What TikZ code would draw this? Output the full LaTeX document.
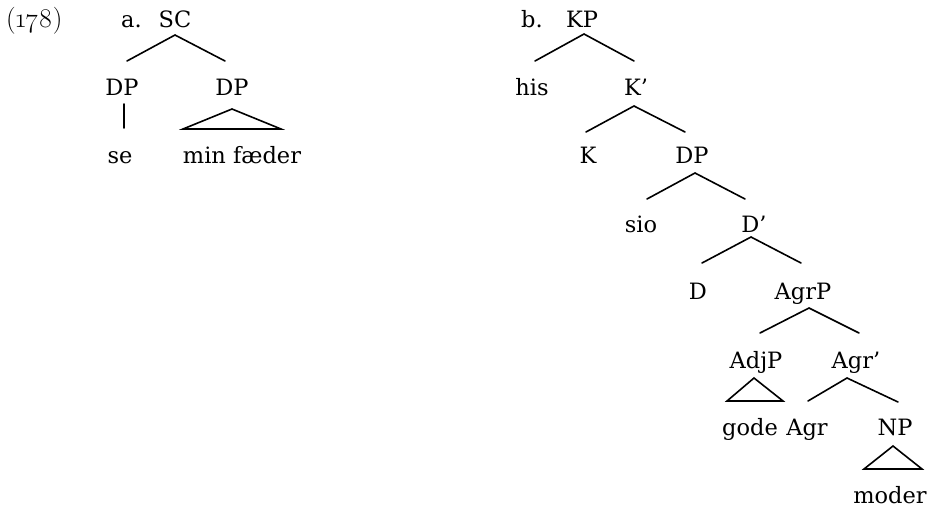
\documentclass[tikz,border=0pt]{standalone}
\usepackage{fontspec}
\setmainfont{DejaVu Serif}
\newfontfamily\osf{Latin Modern Roman}[Numbers=OldStyle]
\begin{document}
\begin{tikzpicture}[x=1pt,y=-1pt,
  lab/.style={inner sep=0pt,anchor=base,font=\fontsize{22.5}{27}\selectfont},
  labw/.style={lab,anchor=base west},
  br/.style={line width=1.6pt,line cap=round,line join=miter}]
\useasboundingbox (0,0) rectangle (933,507);
% tree a
\node[labw,font=\fontsize{27}{32}\osf] (ex) at (6,27) {(178)};
\node[labw] (a) at (121,27) {a.};
\node[lab] (SC) at (175,27) {SC};
\node[lab] (DPl) at (122,95) {DP};
\node[lab] (DPr) at (232,95) {DP};
\node[lab] (se) at (120,163) {se};
\node[lab] (mf) at (242,163) {min fæder};
\coordinate (SCa) at (175,35);
\coordinate (SCl) at (127,61);
\coordinate (SCr) at (225,61);
\draw[br] (SCl) -- (SCa) -- (SCr);
\coordinate (DPlt) at (124,104);
\coordinate (DPlb) at (124,128);
\draw[br] (DPlt) -- (DPlb);
\coordinate (DPra) at (232,109);
\coordinate (DPrl) at (183,129);
\coordinate (DPrr) at (281,129);
\draw[br] (DPra) -- (DPrl) -- (DPrr) -- cycle;
% tree b
\node[labw] (b) at (521,27) {b.};
\node[lab] (KP) at (582,27) {KP};
\node[lab] (his) at (532,95) {his};
\node[lab] (Kb) at (636,95) {K’};
\node[lab] (K) at (588,163) {K};
\node[lab] (DPb) at (692,163) {DP};
\node[lab] (sio) at (641,232) {sio};
\node[lab] (Db) at (754,232) {D’};
\node[lab] (D) at (698,299) {D};
\node[lab] (AgrP) at (803,299) {AgrP};
\node[lab] (AdjP) at (756,368) {AdjP};
\node[lab] (Agrb) at (856,368) {Agr’};
\node[lab] (gode) at (750,435) {gode};
\node[lab] (Agr) at (807,435) {Agr};
\node[lab] (NP) at (895,435) {NP};
\node[lab] (moder) at (890,503) {moder};
\coordinate (KPa) at (584,34);
\coordinate (KPl) at (535,61);
\coordinate (KPr) at (634,61);
\draw[br] (KPl) -- (KPa) -- (KPr);
\coordinate (Kba) at (634,106);
\coordinate (Kbl) at (586,132);
\coordinate (Kbr) at (685,132);
\draw[br] (Kbl) -- (Kba) -- (Kbr);
\coordinate (DPba) at (695,173);
\coordinate (DPbl) at (647,199);
\coordinate (DPbr) at (745,199);
\draw[br] (DPbl) -- (DPba) -- (DPbr);
\coordinate (Dba) at (751,237);
\coordinate (Dbl) at (702,263);
\coordinate (Dbr) at (801,263);
\draw[br] (Dbl) -- (Dba) -- (Dbr);
\coordinate (AgrPa) at (809,308);
\coordinate (AgrPl) at (760,333);
\coordinate (AgrPr) at (859,333);
\draw[br] (AgrPl) -- (AgrPa) -- (AgrPr);
\coordinate (AdjPa) at (754,378);
\coordinate (AdjPl) at (727,401);
\coordinate (AdjPr) at (783,401);
\draw[br] (AdjPa) -- (AdjPl) -- (AdjPr) -- cycle;
\coordinate (Agrba) at (847,378);
\coordinate (Agrbl) at (808,401);
\coordinate (Agrbr) at (898,402);
\draw[br] (Agrbl) -- (Agrba) -- (Agrbr);
\coordinate (NPa) at (893,446);
\coordinate (NPl) at (864,469);
\coordinate (NPr) at (922,469);
\draw[br] (NPa) -- (NPl) -- (NPr) -- cycle;
\end{tikzpicture}
\end{document}
